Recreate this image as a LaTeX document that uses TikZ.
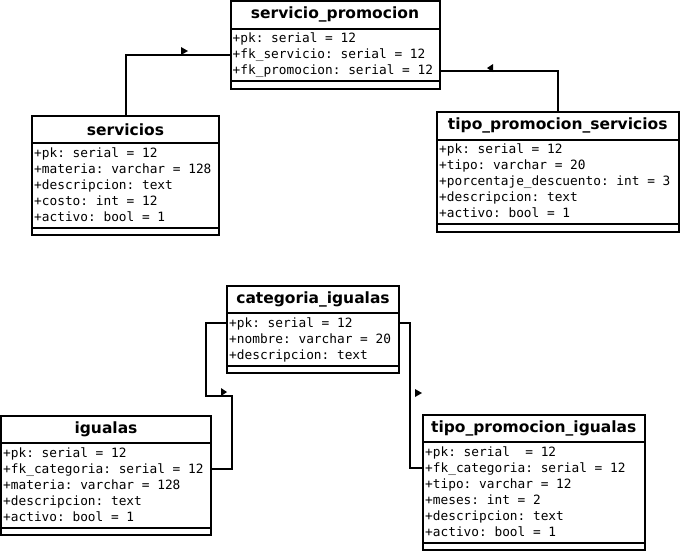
\documentclass[tikz,border=0pt]{standalone}
\usepackage{fontspec}
\newfontfamily\hdrfont{DejaVu Sans}
\newfontfamily\rowfont{DejaVu Sans Mono}
\frenchspacing
\newcommand\umltable[6]{%
  \node[hdr, minimum width=#4pt] (#1) at (#2,#3) {#5};
  \node[bodybox, minimum width=#4pt, minimum height=#6pt] (#1b) at (#1.south west) {};
  \node[footbox, minimum width=#4pt] (#1f) at (#1b.south west) {};
}
\newcommand\umlrow[3]{%
  \node[row] (#1r#2) at ([xshift=2pt,yshift={-(14+16*(#2-1))*1pt}]#1b.north west) {#3};
}
\begin{document}
\begin{tikzpicture}[x=1pt,y=-1pt,
  hdr/.style={draw, line width=2pt, outer sep=0pt, inner sep=0pt, anchor=north west,
    minimum height=27.5pt, font=\hdrfont\bfseries\fontsize{15.5}{18}\selectfont},
  bodybox/.style={draw, line width=2pt, outer sep=0pt, inner sep=0pt, anchor=north west},
  footbox/.style={draw, line width=2pt, outer sep=0pt, inner sep=0pt, anchor=north west,
    minimum height=7.5pt},
  row/.style={anchor=base west, inner sep=0pt, font=\rowfont\frenchspacing\fontsize{12.8}{16}\selectfont},
  conn/.style={line width=2pt},
  tipmark/.style={fill=black}]
\useasboundingbox (0,0) rectangle (681,552);

% servicio_promocion
\umltable{sp}{230.5}{1}{209}{servicio\_promocion}{52.5}
\umlrow{sp}{1}{+pk: serial = 12}
\umlrow{sp}{2}{+fk\_servicio: serial = 12}
\umlrow{sp}{3}{+fk\_promocion: serial = 12}

% servicios
\umltable{sv}{32}{115.5}{187}{servicios}{84.5}
\umlrow{sv}{1}{+pk: serial = 12}
\umlrow{sv}{2}{+materia: varchar = 128}
\umlrow{sv}{3}{+descripcion: text}
\umlrow{sv}{4}{+costo: int = 12}
\umlrow{sv}{5}{+activo: bool = 1}

% tipo_promocion_servicios
\umltable{tps}{437}{112}{241.5}{tipo\_promocion\_servicios}{84.5}
\umlrow{tps}{1}{+pk: serial = 12}
\umlrow{tps}{2}{+tipo: varchar = 20}
\umlrow{tps}{3}{+porcentaje\_descuento: int = 3}
\umlrow{tps}{4}{+descripcion: text}
\umlrow{tps}{5}{+activo: bool = 1}

% categoria_igualas
\umltable{ci}{227}{285.5}{172}{categoria\_igualas}{52.5}
\umlrow{ci}{1}{+pk: serial = 12}
\umlrow{ci}{2}{+nombre: varchar = 20}
\umlrow{ci}{3}{+descripcion: text}

% igualas
\umltable{ig}{1}{415.5}{210}{igualas}{84.5}
\umlrow{ig}{1}{+pk: serial = 12}
\umlrow{ig}{2}{+fk\_categoria: serial = 12}
\umlrow{ig}{3}{+materia: varchar = 128}
\umlrow{ig}{4}{+descripcion: text}
\umlrow{ig}{5}{+activo: bool = 1}

% tipo_promocion_igualas
\umltable{tpi}{423}{414.5}{221.5}{tipo\_promocion\_igualas}{100.5}
\umlrow{tpi}{1}{+pk: serial\ \ = 12}
\umlrow{tpi}{2}{+fk\_categoria: serial = 12}
\umlrow{tpi}{3}{+tipo: varchar = 12}
\umlrow{tpi}{4}{+meses: int = 2}
\umlrow{tpi}{5}{+descripcion: text}
\umlrow{tpi}{6}{+activo: bool = 1}

% connectors
\draw[conn] ([yshift=4pt]spr2.base -| sp.west) -| (sv.north);
\draw[conn] ([yshift=4pt]spr3.base -| sp.east) -| (tps.north);
\draw[conn] ([yshift=4pt]cir1.base -| ci.west) -- ++(-21.5,0) -- ++(0,73) -- ++(26.5,0)
  |- ([yshift=4pt]igr2.base -| ig.east);
\draw[conn] ([yshift=4pt]cir1.base -| ci.east) -- ++(10.5,0)
  |- ([yshift=4pt]tpir2.base -| tpi.west);

% direction markers
\fill[tipmark] (181,47) -- (188,51) -- (181,55) -- cycle;
\fill[tipmark] (493,64) -- (487,68) -- (493,72) -- cycle;
\fill[tipmark] (221,388) -- (227,392) -- (221,396) -- cycle;
\fill[tipmark] (415,389) -- (422,393) -- (415,397) -- cycle;
\end{tikzpicture}
\end{document}
